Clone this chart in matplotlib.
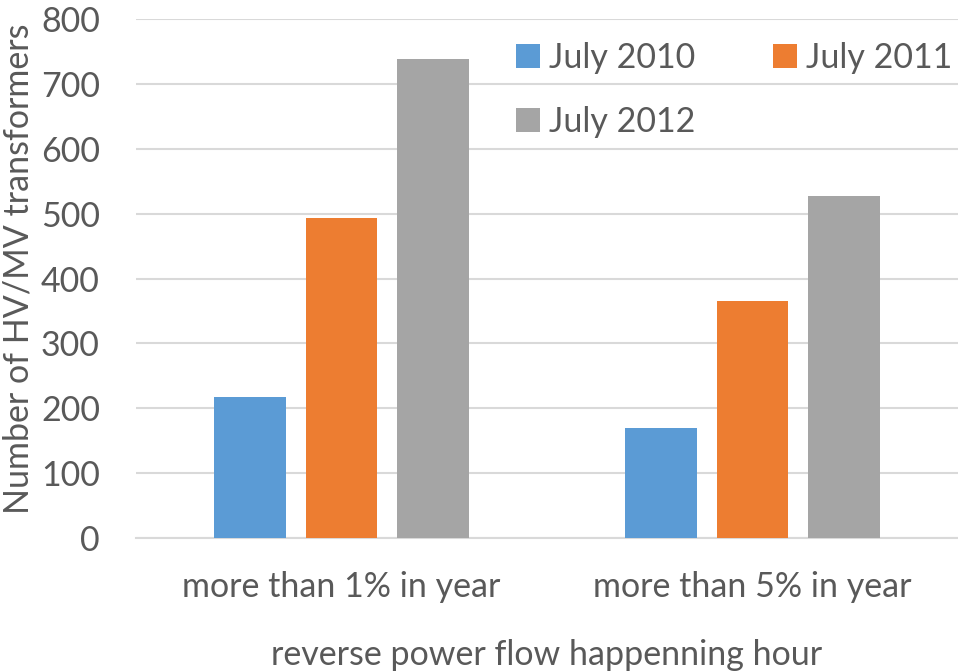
import numpy as np
import matplotlib.pyplot as plt

plt.rcParams['font.family'] = ['Lato', 'DejaVu Sans']

categories = ['more than 1% in year', 'more than 5% in year']
series = ['July 2010', 'July 2011', 'July 2012']
july_2010 = [217, 169]
july_2011 = [494, 366]
july_2012 = [739, 527]
colors = ['#5B9BD5', '#ED7D31', '#A5A5A5']
txt = '#595959'
fs = 24.5

fig = plt.figure(figsize=(9.58, 6.71), dpi=100)
ax = fig.add_axes([136/958, 1-538/671, 822/958, 519/671])

x = np.arange(len(categories))
w = 0.175
step = 0.2225
bars = []
for i, (name, vals) in enumerate(zip(series, [july_2010, july_2011, july_2012])):
    bars.append(ax.bar(x + (i-1)*step, vals, w, color=colors[i], label=name, zorder=3))

ax.set_xlim(-0.5, 1.5)
ax.set_ylim(0, 800)
ax.set_yticks(range(0, 801, 100))
ax.yaxis.grid(True, color='#D9D9D9', linewidth=1.5, zorder=0)
for s in ['top', 'right', 'left']:
    ax.spines[s].set_visible(False)
ax.spines['bottom'].set_color('#D9D9D9')
ax.spines['bottom'].set_linewidth(1.5)
ax.tick_params(length=0, labelsize=fs, labelcolor=txt)
ax.tick_params(axis='x', pad=24)
ax.tick_params(axis='y', pad=26)
ax.set_xticks(x)
ax.set_xticklabels(categories)
ax.set_xlabel('reverse power flow happenning hour', fontsize=fs, color=txt, labelpad=26)
ax.set_ylabel('Number of HV/MV transformers', fontsize=fs, color=txt)
ax.yaxis.set_label_coords(-0.123, 0.518)

# row-wise order like the original: 2010, 2011 on top, 2012 below
order = [0, 2, 1]
ax.legend([bars[i] for i in order], [series[i] for i in order],
          ncol=2, loc='upper right', bbox_to_anchor=(1.03, 1.015), frameon=False,
          fontsize=fs, labelcolor=txt, handlelength=0.7, handleheight=0.7,
          handletextpad=0.25, columnspacing=2.3, labelspacing=0.95)

plt.savefig('out.png', dpi=100)
